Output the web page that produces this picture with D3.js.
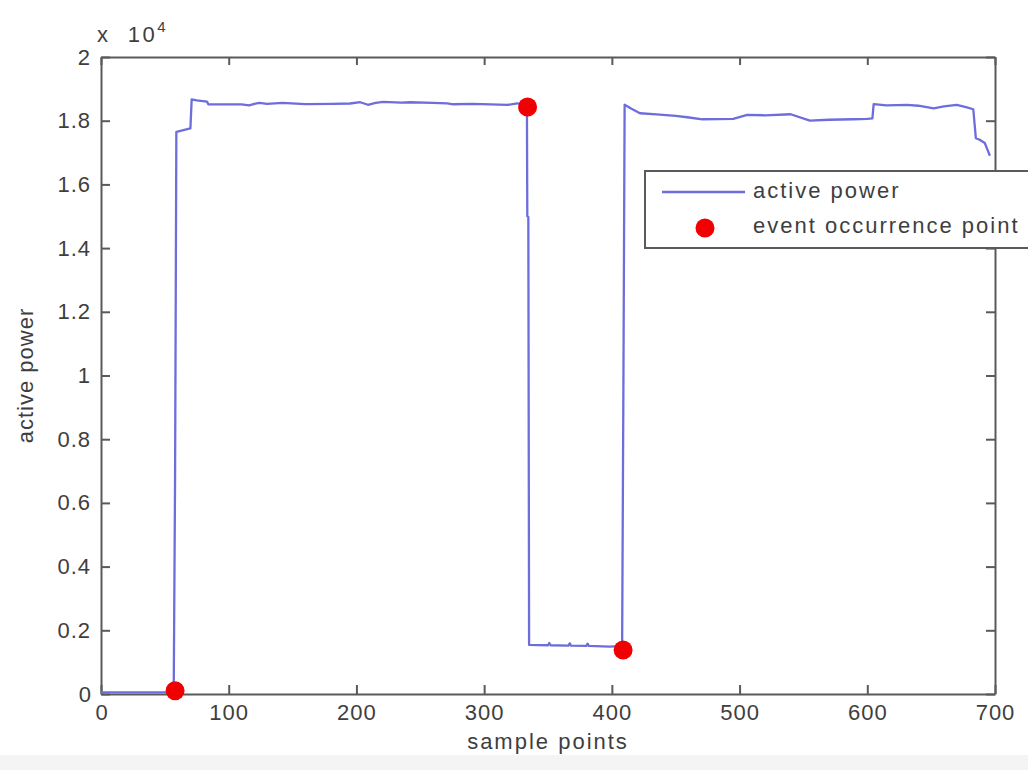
<!DOCTYPE html>
<html>
<head>
<meta charset="utf-8">
<script src="https://cdn.jsdelivr.net/npm/d3@7"></script>
<style>
  body { margin: 0; background: #fff; }
  svg { display: block; font-family: "Liberation Sans", Arial, sans-serif; }
  .axis text { fill: #3e3e3e; font-size: 22px; letter-spacing: 1px; }
  .axis path, .axis line { stroke: #5a5a5a; stroke-width: 2px; }
  .lbl { fill: #3e3e3e; font-size: 22px; letter-spacing: 2px; }
</style>
</head>
<body>
<svg></svg>
<script>
// active power trace, [sample, watts]
var powerX = [0, 56, 57, 58, 59, 60, 66, 70, 71, 75, 83, 84, 110, 116, 120, 124, 130, 142, 160, 181, 195, 203, 209, 215, 221, 235, 242, 260, 271, 276, 291, 305, 318, 326, 333.5, 333.8, 334.6, 335.2, 350, 351, 352, 366, 367, 368, 380, 381, 382, 398, 407, 408, 409, 410, 415, 422, 435, 450, 459, 471, 495, 506, 520, 540, 555, 570, 589, 600, 604, 605, 615, 631, 640, 652, 660, 670, 678, 683, 685, 688, 692, 694, 696];
var powerY = [50, 50, 450, 6800, 17650, 17660, 17720, 17760, 18670, 18640, 18600, 18517, 18510, 18484, 18530, 18557, 18530, 18557, 18520, 18526, 18540, 18580, 18500, 18560, 18590, 18570, 18580, 18560, 18547, 18516, 18526, 18510, 18495, 18547, 18450, 15000, 14980, 1540, 1530, 1600, 1530, 1520, 1590, 1520, 1510, 1580, 1510, 1490, 1500, 1160, 9350, 18500, 18380, 18234, 18200, 18150, 18108, 18045, 18055, 18180, 18170, 18202, 18003, 18030, 18045, 18060, 18076, 18520, 18480, 18494, 18470, 18390, 18450, 18494, 18420, 18360, 17450, 17400, 17300, 17100, 16900];

// event occurrence points
var eventX = [58, 334, 408.8];
var eventY = [100, 18430, 1380];

var xTicks = [0, 100, 200, 300, 400, 500, 600, 700];
var yTicks = [0, 2000, 4000, 6000, 8000, 10000, 12000, 14000, 16000, 18000, 20000];

var legendNames = ["active power", "event occurrence point"];

var width = 1028;
var height = 770;
var margin = { left: 101, right: 33, top: 57, bottom: 76 };
var lineColor = "#6d6ddc";

var svg = d3.select("svg")
  .attr("width", width)
  .attr("height", height);

// faint grey strip at the very bottom of the screenshot
svg.append("rect")
  .attr("x", 0)
  .attr("y", 755)
  .attr("width", width)
  .attr("height", height - 755)
  .attr("fill", "#f4f4f4");

var x = d3.scaleLinear()
  .domain([0, 700])
  .range([margin.left, width - margin.right]);

var y = d3.scaleLinear()
  .domain([0, 20000])
  .range([height - margin.bottom, margin.top]);

var yFmt = function(d) {
  return d3.format("~g")(d / 10000);
};

// axes, ticks pointing inwards like matlab
svg.append("g")
  .attr("class", "axis")
  .attr("transform", "translate(0," + y(0) + ")")
  .call(d3.axisBottom(x).tickValues(xTicks).tickSizeInner(-9).tickSizeOuter(0).tickPadding(10));

svg.append("g")
  .attr("class", "axis")
  .attr("transform", "translate(0," + y(20000) + ")")
  .call(d3.axisTop(x).tickValues(xTicks).tickSizeInner(-8).tickSizeOuter(0).tickFormat(""));

svg.append("g")
  .attr("class", "axis")
  .attr("transform", "translate(" + x(0) + ",0)")
  .call(d3.axisLeft(y).tickValues(yTicks).tickSizeInner(-9).tickSizeOuter(0).tickPadding(10).tickFormat(yFmt));

svg.append("g")
  .attr("class", "axis")
  .attr("transform", "translate(" + x(700) + ",0)")
  .call(d3.axisRight(y).tickValues(yTicks).tickSizeInner(-9).tickSizeOuter(0).tickFormat(""));

svg.selectAll(".axis .tick text").filter(function(d) { return d === 0; })
  .style("letter-spacing", "0px");

// exponent note
var expo = svg.append("text")
  .attr("class", "lbl")
  .attr("x", 97)
  .attr("y", 42)
  .style("letter-spacing", "2.5px")
  .attr("xml:space", "preserve");
expo.append("tspan").text("x  10");
expo.append("tspan").attr("dy", -10).style("font-size", "15px").text("4");

// axis titles
svg.append("text")
  .attr("class", "lbl")
  .attr("x", (x(0) + x(700)) / 2)
  .attr("y", 749)
  .attr("text-anchor", "middle")
  .text("sample points");

svg.append("text")
  .attr("class", "lbl")
  .attr("transform", "translate(33," + (y(10000)) + ") rotate(-90)")
  .attr("text-anchor", "middle")
  .style("letter-spacing", "1px")
  .text("active power");

// the trace
var pts = powerX.map(function(d, i) { return [d, powerY[i]]; });

var line = d3.line()
  .x(function(d) { return x(d[0]); })
  .y(function(d) { return y(d[1]); });

svg.append("path")
  .datum(pts)
  .attr("fill", "none")
  .attr("stroke", lineColor)
  .attr("stroke-width", 2.3)
  .attr("stroke-linejoin", "round")
  .attr("d", line);

svg.append("g")
  .selectAll("circle")
  .data(eventX)
  .enter()
  .append("circle")
  .attr("cx", function(d) { return x(d); })
  .attr("cy", function(d, i) { return y(eventY[i]); })
  .attr("r", 9.5)
  .attr("fill", "#f00000");

// legend (runs off the right edge in the original)
var legend = svg.append("g").attr("transform", "translate(645,171)");

legend.append("rect")
  .attr("width", 420)
  .attr("height", 77)
  .attr("fill", "#fff")
  .attr("stroke", "#5a5a5a")
  .attr("stroke-width", 2);

legend.append("line")
  .attr("x1", 17)
  .attr("x2", 100)
  .attr("y1", 21)
  .attr("y2", 21)
  .attr("stroke", lineColor)
  .attr("stroke-width", 2.3);

legend.append("circle")
  .attr("cx", 60)
  .attr("cy", 57)
  .attr("r", 9.5)
  .attr("fill", "#f00000");

legend.selectAll("text.entry")
  .data(legendNames)
  .enter()
  .append("text")
  .attr("class", "lbl entry")
  .attr("x", 108)
  .attr("y", function(d, i) { return 27 + i * 35; })
  .text(function(d) { return d; });
</script>
</body>
</html>
